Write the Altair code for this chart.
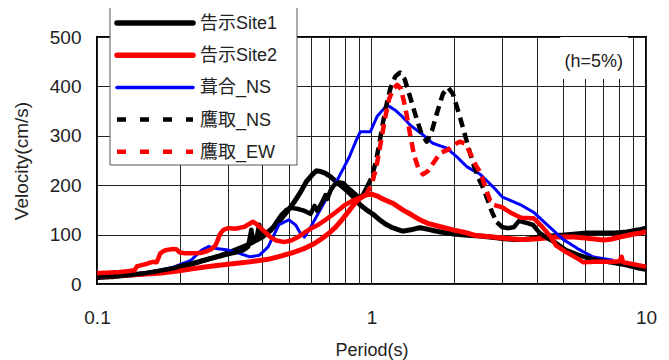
import altair as alt
import pandas as pd

FONT = "Liberation Sans, Arial, Noto Sans CJK JP, sans-serif"

names = ["告示Site1", "告示Site2", "葺合_NS", "鷹取_NS", "鷹取_EW"]
colors = ["#000000", "#ff0000", "#0000ff", "#000000", "#ff0000"]
widths = [5, 5, 3, 4.5, 4.5]

# 告示Site1
s1_T = [0.1, 0.115, 0.13, 0.15, 0.17, 0.2, 0.22, 0.25, 0.28, 0.31, 0.35, 0.4, 0.45, 0.49, 0.52, 0.55,
        0.58, 0.61, 0.63, 0.65, 0.68, 0.71, 0.74, 0.77, 0.81, 0.86, 0.91, 0.96, 1.02, 1.07, 1.12, 1.18,
        1.25, 1.3, 1.4, 1.5, 1.6, 1.75, 1.9, 2.0, 2.2, 2.5, 2.8, 3.0, 3.3, 3.6, 3.9, 4.3, 4.7, 5.0, 5.5,
        6.0, 6.6, 7.0, 7.5, 8.0, 8.5, 9.0, 9.5, 10]
s1_V = [13, 15, 18, 21, 26, 34, 40, 49, 57, 66, 78, 95, 120, 145, 164, 185,
        208, 222, 229, 228, 224, 217, 208, 200, 190, 176, 160, 150, 140, 130, 122, 115,
        110, 107, 110, 114, 111, 106, 103, 101, 99, 97, 94, 92, 90, 90, 93, 96, 98, 99, 101,
        103, 103, 103, 103, 104, 105, 108, 110, 113]

# 告示Site2
s2_T = [0.1, 0.12, 0.14, 0.17, 0.2, 0.23, 0.26, 0.3, 0.35, 0.42, 0.47, 0.52, 0.57, 0.62, 0.66, 0.7,
        0.74, 0.78, 0.82, 0.86, 0.9, 0.95, 1.0, 1.05, 1.1, 1.2, 1.3, 1.4, 1.5, 1.6, 1.75, 1.9, 2.0,
        2.2, 2.4, 2.7, 3.0, 3.5, 3.9, 4.3, 4.7, 5.0, 5.5, 6.0, 6.5, 7.0, 7.5, 8.0, 8.5, 9.0, 9.5, 10]
s2_V = [15, 17, 19, 22, 27, 32, 36, 40, 44, 50, 57, 64, 72, 82, 92, 103,
        115, 130, 145, 160, 172, 180, 182, 178, 172, 163, 150, 140, 130, 123, 117, 112, 109,
        104, 98, 96, 93, 90, 91, 93, 95, 95, 95, 93, 91, 89, 91, 95, 98, 101, 103, 106]

# 葺合_NS
fk_T = [0.1, 0.13, 0.16, 0.19, 0.22, 0.24, 0.255, 0.27, 0.3, 0.33, 0.36, 0.39, 0.42, 0.46, 0.5,
        0.53, 0.55, 0.57, 0.6, 0.65, 0.69, 0.75, 0.83, 0.88, 0.91, 0.99, 1.05, 1.14, 1.22, 1.3,
        1.38, 1.54, 1.67, 1.88, 2.05, 2.23, 2.49, 2.78, 3.0, 3.5, 3.9, 4.4, 5.0, 5.7, 6.4, 7.6]
fk_V = [14, 18, 25, 34, 48, 68, 76, 72, 69, 62, 55, 58, 75, 120, 130,
        119, 103, 95, 115, 150, 176, 210, 257, 291, 308, 308, 340, 362, 352, 338,
        322, 302, 285, 275, 257, 237, 222, 196, 176, 160, 145, 118, 90, 70, 55, 48]

# 鷹取_NS (low-period part / dashed middle part / long-period part)
ns_T = [0.1, 0.115, 0.13, 0.15, 0.17, 0.19, 0.2, 0.22, 0.24, 0.26, 0.28, 0.3, 0.32, 0.34, 0.355,
        0.365, 0.37, 0.38, 0.39, 0.395, 0.41, 0.43, 0.45, 0.47, 0.49, 0.51, 0.54, 0.57, 0.6, 0.62,
        0.635, 0.66, 0.68, 0.69, 0.71, 0.73, 0.76, 0.79, 0.82, 0.86, 0.9, 0.93, 0.96,
        1.0, 1.04, 1.08, 1.12, 1.17, 1.22, 1.27, 1.32, 1.38, 1.45, 1.52, 1.59, 1.66, 1.74, 1.82,
        1.9, 1.98, 2.1, 2.22, 2.34, 2.45, 2.55, 2.65, 2.75, 2.86,
        3.0, 3.15, 3.3, 3.45, 3.6, 3.87, 4.1, 4.4, 4.7, 5.1, 5.6, 6.1, 6.8, 7.6, 8.5, 9.2, 10]
ns_V = [15, 16, 18, 22, 27, 32, 36, 41, 47, 52, 56, 60, 64, 68, 75,
        110, 85, 90, 120, 95, 100, 108, 125, 140, 150, 154, 152, 148, 142, 158,
        148, 165, 180, 172, 190, 200, 206, 204, 195, 185, 175, 180, 195,
        215, 250, 300, 350, 395, 420, 428, 415, 380, 340, 305, 288, 310, 350, 385,
        398, 385, 338, 290, 245, 215, 195, 170, 145, 125,
        115, 113, 115, 128, 125, 120, 103, 92, 83, 69, 60, 53, 47, 43, 38, 33, 29]
ns_dash_from, ns_dash_to = 0.96, 2.86

# 鷹取_EW
ew_T = [0.1, 0.11, 0.12, 0.13, 0.137, 0.14, 0.15, 0.16, 0.165, 0.17, 0.175, 0.18, 0.19, 0.195, 0.2,
        0.21, 0.225, 0.24, 0.25, 0.26, 0.27, 0.275, 0.28, 0.285, 0.29, 0.3, 0.32, 0.345, 0.36, 0.37,
        0.38, 0.39, 0.41, 0.43, 0.45, 0.48, 0.51, 0.54, 0.57, 0.6, 0.64, 0.68, 0.72, 0.76, 0.8,
        0.85, 0.9, 0.95,
        1.0, 1.04, 1.08, 1.12, 1.16, 1.2, 1.24, 1.28, 1.33, 1.38, 1.43, 1.48, 1.54, 1.6, 1.68,
        1.78, 1.9, 2.0, 2.1, 2.2, 2.3, 2.4, 2.5, 2.6, 2.7, 2.8,
        3.0, 3.2, 3.5, 3.9, 4.2, 4.5, 4.7, 5.1, 5.7, 5.9, 6.5, 7.0, 7.5, 8.0, 8.15, 8.25, 9.0, 10]
ew_V = [22, 23, 24, 26, 28, 36, 40, 45, 44, 62, 67, 69, 71, 70, 64,
        62, 62, 63, 66, 70, 78, 88, 100, 106, 110, 113, 112, 116, 122, 126,
        122, 116, 105, 94, 88, 85, 88, 95, 104, 112, 120, 130, 140, 150, 160,
        168, 174, 180,
        200, 235, 285, 335, 375, 395, 403, 395, 355, 305, 260, 235, 222, 228, 245,
        265, 272, 282, 288, 284, 262, 240, 225, 195, 170, 160,
        155, 145, 134, 133, 115, 95, 78, 65, 50, 44, 45, 45, 45, 46, 55, 44, 40, 35]
ew_dash_from, ew_dash_to = 0.95, 2.8

x_grid = [0.1, 0.2, 0.3, 0.4, 0.5, 0.6, 0.7, 0.8, 0.9, 1, 2, 3, 4, 5, 6, 7, 8, 9, 10]
y_ticks = [0, 100, 200, 300, 400, 500]


def frame(T, V, name, dash_from=None, dash_to=None):
    rows = []
    for i, (t, v) in enumerate(zip(T, V)):
        if dash_from is None:
            rows.append((t, v, name, "solid", 0, i))
        else:
            if t <= dash_from:
                rows.append((t, v, name, "solid", 0, i))
            if dash_from <= t <= dash_to:
                rows.append((t, v, name, "dash", 1, i))
            if t >= dash_to:
                rows.append((t, v, name, "solid", 2, i))
    return pd.DataFrame(rows, columns=["T", "V", "series", "style", "seg", "idx"])


series_frames = [
    frame(s1_T, s1_V, names[0]),
    frame(s2_T, s2_V, names[1]),
    frame(fk_T, fk_V, names[2]),
    frame(ns_T, ns_V, names[3], ns_dash_from, ns_dash_to),
    frame(ew_T, ew_V, names[4], ew_dash_from, ew_dash_to),
]

xscale = alt.Scale(type="log", domain=[0.1, 10], nice=False)
yscale = alt.Scale(domain=[0, 500], nice=False)

xaxis = alt.Axis(values=x_grid, title="Period(s)", format="~g",
                 labelExpr="abs(log(datum.value)/log(10) - round(log(datum.value)/log(10))) < 1e-6 ? datum.label : ''",
                 grid=True, gridColor="#222222", gridWidth=1, tickSize=0, domain=False,
                 labelFontSize=19, labelFont=FONT, labelColor="#222", labelPadding=24,
                 titleFontSize=18, titleFont=FONT, titleFontWeight="normal", titleColor="#222",
                 titleY=57, titleBaseline="top", labelFlush=False)
yaxis = alt.Axis(values=y_ticks, title="Velocity(cm/s)", grid=True, gridColor="#222222", gridWidth=1,
                 tickSize=0, domain=False, labelFontSize=19, labelFont=FONT, labelColor="#222",
                 labelPadding=16, titleFontSize=19, titleFont=FONT, titleFontWeight="normal",
                 titleColor="#222", titleX=-66, titleBaseline="bottom")

# white box behind "(h=5%)"
box = alt.Chart(pd.DataFrame({"x": [4.87], "x2": [8.6], "y": [415], "y2": [500]})).mark_rect(
    fill="white", stroke=None).encode(
    x=alt.X("x:Q", scale=xscale, axis=xaxis), x2="x2:Q",
    y=alt.Y("y:Q", scale=yscale, axis=yaxis), y2="y2:Q")

dash_scale = alt.Scale(domain=["solid", "dash"], range=[[1, 0], [10, 6]])

layers = [box]
for df, name, col, w in zip(series_frames, names, colors, widths):
    layers.append(
        alt.Chart(df).mark_line(color=col, strokeWidth=w, clip=True, strokeJoin="round").encode(
            x=alt.X("T:Q", scale=xscale),
            y=alt.Y("V:Q", scale=yscale),
            detail="seg:N",
            strokeDash=alt.StrokeDash("style:N", scale=dash_scale, legend=None),
            order="idx:Q",
        )
    )

ann = alt.Chart(pd.DataFrame({"x": [6.45], "y": [449], "t": ["(h=5%)"]})).mark_text(
    font=FONT, fontSize=18, color="#222").encode(
    x=alt.X("x:Q", scale=xscale), y=alt.Y("y:Q", scale=yscale), text="t:N")
layers.append(ann)

# legend (drawn as a framed box in the upper left)
leg_frame = alt.Chart(pd.DataFrame({"a": [0]})).mark_rect(
    fill="white", stroke="#555555", strokeWidth=1).encode(
    x=alt.value(13), x2=alt.value(200), y=alt.value(-30), y2=alt.value(128))
layers.append(leg_frame)
leg_dash = [None, None, None, [9, 14], [9, 14]]
leg_w = [5.5, 5.5, 3.5, 4.5, 4.5]
for i, name in enumerate(names):
    ly = -14 + 32.2 * i
    kw = dict(color=colors[i], strokeWidth=leg_w[i])
    if leg_dash[i]:
        kw["strokeDash"] = leg_dash[i]
    else:
        kw["strokeCap"] = "round"
    layers.append(alt.Chart(pd.DataFrame({"n": [name]})).mark_rule(**kw).encode(
        x=alt.value(20), x2=alt.value(96), y=alt.value(ly)))
    layers.append(alt.Chart(pd.DataFrame({"n": [name]})).mark_text(
        font=FONT, fontSize=18, color="#222", align="left", baseline="middle").encode(
        x=alt.value(103), y=alt.value(ly + 1), text="n:N"))

chart = alt.layer(*layers).properties(
    width=549, height=247,
    padding={"left": 89, "top": 29, "right": 15, "bottom": 76},
    autosize=alt.AutoSizeParams(type="none"),
    background="white",
).configure_view(stroke="#000000", strokeWidth=2)

chart.save("out.html", embed_options={"renderer": "svg", "actions": False})
